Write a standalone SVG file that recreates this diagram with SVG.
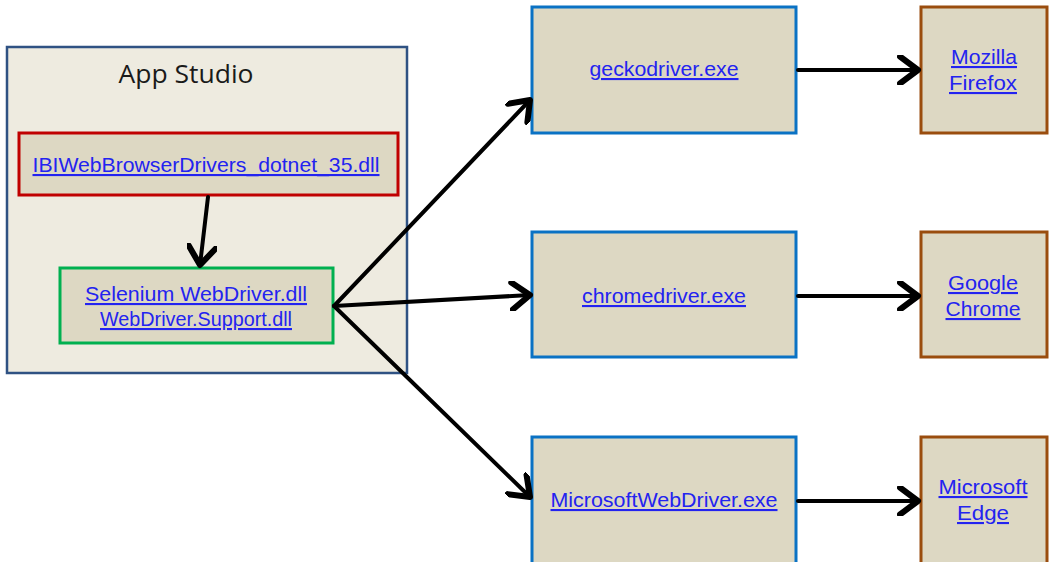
<svg xmlns="http://www.w3.org/2000/svg" width="1053" height="562" viewBox="0 0 1053 562">
<style>
.box{fill:#ddd8c3;}
.blue{stroke:#0a72c4;stroke-width:3;}
.brown{stroke:#9a4d0e;stroke-width:3;}
.lnk{font-family:"Liberation Sans",Arial,sans-serif;font-size:21px;fill:#2323f0;text-decoration:underline;text-anchor:middle;}
.conn{stroke:#000;stroke-width:4;fill:none;stroke-linecap:round;marker-end:url(#arr);}
</style>
<defs>
<marker id="arr" markerUnits="userSpaceOnUse" markerWidth="30" markerHeight="30" refX="14" refY="10" orient="auto" viewBox="0 0 20 20">
<path d="M2,1 L14,10 L2,19" fill="none" stroke="#000" stroke-width="4" stroke-linecap="round" stroke-linejoin="round"/>
</marker>
</defs>
<rect width="1053" height="562" fill="#fff"/>
<g id="app-studio">
<rect x="7" y="47" width="400" height="326" fill="#eeebe0" stroke="#2f5283" stroke-width="2.5"/>
<text x="186" y="83" font-family="'Open Sans','Liberation Sans',sans-serif" font-size="26" fill="#1a1a1a" text-anchor="middle" textLength="135" lengthAdjust="spacingAndGlyphs">App Studio</text>
</g>
<g id="ibi-dll">
<rect class="box" x="19" y="133" width="379" height="62" stroke="#c00000" stroke-width="3"/>
<text class="lnk" x="206" y="172" textLength="347" lengthAdjust="spacingAndGlyphs">IBIWebBrowserDrivers_dotnet_35.dll</text>
</g>
<g id="selenium-dll">
<rect class="box" x="60" y="268" width="273" height="75" stroke="#00b050" stroke-width="3"/>
<text class="lnk" x="196" y="301" textLength="222" lengthAdjust="spacingAndGlyphs">Selenium WebDriver.dll</text>
<text class="lnk" x="196" y="326" textLength="192" lengthAdjust="spacingAndGlyphs">WebDriver.Support.dll</text>
</g>
<g id="geckodriver">
<rect class="box blue" x="532" y="7" width="264" height="126"/>
<text class="lnk" x="664" y="76" textLength="149" lengthAdjust="spacingAndGlyphs">geckodriver.exe</text>
</g>
<g id="chromedriver">
<rect class="box blue" x="532" y="232" width="264" height="125"/>
<text class="lnk" x="664" y="303" textLength="164" lengthAdjust="spacingAndGlyphs">chromedriver.exe</text>
</g>
<g id="edgedriver">
<rect class="box blue" x="532" y="437" width="264" height="135"/>
<text class="lnk" x="664" y="507" textLength="227" lengthAdjust="spacingAndGlyphs">MicrosoftWebDriver.exe</text>
</g>
<g id="firefox">
<rect class="box brown" x="921" y="7" width="126" height="126"/>
<text class="lnk" x="984" y="64" textLength="66" lengthAdjust="spacingAndGlyphs">Mozilla</text>
<text class="lnk" x="983" y="90" textLength="68" lengthAdjust="spacingAndGlyphs">Firefox</text>
</g>
<g id="chrome">
<rect class="box brown" x="921" y="232" width="126" height="125"/>
<text class="lnk" x="983" y="290" textLength="70" lengthAdjust="spacingAndGlyphs">Google</text>
<text class="lnk" x="983" y="316" textLength="75" lengthAdjust="spacingAndGlyphs">Chrome</text>
</g>
<g id="edge">
<rect class="box brown" x="921" y="437" width="126" height="135"/>
<text class="lnk" x="983" y="494" textLength="89" lengthAdjust="spacingAndGlyphs">Microsoft</text>
<text class="lnk" x="983" y="520" textLength="52" lengthAdjust="spacingAndGlyphs">Edge</text>
</g>
<g id="connectors">
<line class="conn" x1="208" y1="197" x2="200" y2="265"/>
<line class="conn" x1="334" y1="306" x2="530" y2="100"/>
<line class="conn" x1="334" y1="306" x2="530" y2="295"/>
<line class="conn" x1="334" y1="306" x2="530" y2="497"/>
<line class="conn" x1="798" y1="70" x2="918" y2="70"/>
<line class="conn" x1="798" y1="296" x2="918" y2="296"/>
<line class="conn" x1="798" y1="501" x2="918" y2="501"/>
</g>
</svg>
